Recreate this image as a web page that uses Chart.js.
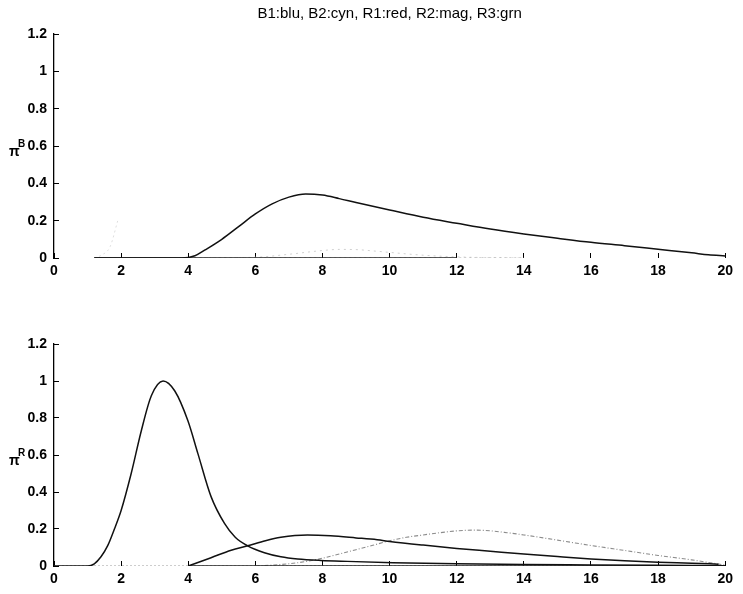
<!DOCTYPE html>
<html><head><meta charset="utf-8">
<script src="https://cdn.jsdelivr.net/npm/chart.js@4"></script>
<style>
html,body{margin:0;padding:0;background:#fff;}
#wrap{position:relative;width:743px;height:594px;overflow:hidden;}
.pane{position:absolute;left:0;width:743px;}
</style></head><body>
<div id="wrap">
<div class="pane" style="top:0;height:300px"><canvas id="cTop" width="743" height="300"></canvas></div>
<div class="pane" style="top:300px;height:294px"><canvas id="cBot" width="743" height="294"></canvas></div>
</div>
<script>
// ---- text ----
const chartTitle = 'B1:blu, B2:cyn, R1:red, R2:mag, R3:grn';
const topAxisSup = 'B';
const botAxisSup = 'R';
const xTickValues = [0, 2, 4, 6, 8, 10, 12, 14, 16, 18, 20];
const xTickLabels = ['0', '2', '4', '6', '8', '10', '12', '14', '16', '18', '20'];
const yTickValues = [0, 0.2, 0.4, 0.6, 0.8, 1, 1.2];
const yTickLabels = ['0', '0.2', '0.4', '0.6', '0.8', '1', '1.2'];

// ---- top panel (pi^B) ----
const b1X = [1.2, 2, 3, 3.8, 4.2, 4.5, 5, 5.5, 6, 6.5, 7, 7.5, 8, 8.5, 9, 10, 11, 12, 13, 14, 15, 16, 17, 18, 19, 19.5, 20];
const b1Y = [0, 0, 0, 0, 0.012, 0.043, 0.1, 0.168, 0.236, 0.29, 0.326, 0.343, 0.337, 0.318, 0.297, 0.257, 0.218, 0.186, 0.155, 0.129, 0.106, 0.084, 0.066, 0.047, 0.028, 0.017, 0.011];
const b2X = [1.2, 12];
const b2Y = [0, 0];
const b3X = [1.2, 14];
const b3Y = [0, 0];
const b4X = [1.2, 1.42, 1.67, 1.9];
const b4Y = [0, 0.016, 0.06, 0.2];
const b5X = [4, 6, 7, 8, 8.5, 9, 9.5, 10, 11, 12, 13, 14];
const b5Y = [0, 0.004, 0.02, 0.04, 0.046, 0.045, 0.038, 0.03, 0.015, 0.006, 0.002, 0];

// ---- bottom panel (pi^R) ----
const r1X = [0, 1.0, 1.2, 1.4, 1.6, 1.8, 2.0, 2.3, 2.6, 2.9, 3.25, 3.6, 3.99, 4.29, 4.68, 5.08, 5.4, 5.77, 6.27, 6.76, 7.26, 7.95, 8.74, 10.1, 12, 14, 16, 18, 20];
const r1Y = [0, 0, 0.012, 0.05, 0.11, 0.2, 0.3, 0.5, 0.73, 0.92, 1.0, 0.946, 0.785, 0.606, 0.375, 0.23, 0.155, 0.109, 0.072, 0.05, 0.038, 0.03, 0.025, 0.018, 0.012, 0.008, 0.006, 0.004, 0.002];
const r2X = [4, 4.68, 5.28, 5.77, 6.3, 6.76, 7.55, 8.24, 9, 9.63, 10, 11, 12, 13, 14, 15, 16, 17, 18, 19, 19.8];
const r2Y = [0, 0.045, 0.085, 0.109, 0.137, 0.155, 0.167, 0.163, 0.152, 0.142, 0.133, 0.113, 0.095, 0.08, 0.065, 0.051, 0.038, 0.028, 0.02, 0.015, 0.01];
const r3X = [6, 6.5, 7, 7.5, 8, 8.5, 9, 9.5, 10, 10.5, 11, 11.5, 12, 12.5, 13, 13.5, 14, 15, 16, 17, 18, 19, 20];
const r3Y = [0, 0.005, 0.012, 0.024, 0.042, 0.065, 0.088, 0.112, 0.136, 0.155, 0.168, 0.18, 0.19, 0.194, 0.19, 0.18, 0.168, 0.14, 0.111, 0.084, 0.057, 0.033, 0.005];
const r4X = [4, 20];
const r4Y = [0, 0];
const r5X = [0, 20];
const r5Y = [0, 0];

const FONT = '"Liberation Sans", Arial, Helvetica, sans-serif';

function pts(xs, ys) { return xs.map((x, i) => ({ x: x, y: ys[i] })); }
function ds(xs, ys, color, width, dash, order) {
  return {
    data: pts(xs, ys), borderColor: color, borderWidth: width, borderDash: dash || [],
    pointRadius: 0, fill: false, cubicInterpolationMode: 'monotone', order: order
  };
}

const annotPlugin = {
  id: 'annot',
  afterDraw(chart, args, o) {
    const ctx = chart.ctx, ca = chart.chartArea, ys = chart.scales.y;
    ctx.save();
    ctx.fillStyle = '#000';
    if (o.title) {
      ctx.font = '15px ' + FONT;
      ctx.textAlign = 'center'; ctx.textBaseline = 'middle';
      ctx.fillText(o.title, (ca.left + ca.right) / 2, o.titleY);
    }
    if (o.sup) {
      const y0 = ys.getPixelForValue(o.labelAt);
      ctx.textAlign = 'left'; ctx.textBaseline = 'alphabetic';
      ctx.font = 'bold 14px ' + FONT;
      ctx.fillText('π', 9, y0 + 10);
      ctx.font = 'bold 10px ' + FONT;
      ctx.fillText(o.sup, 18, y0 + 1);
    }
    ctx.restore();
  }
};

function makeChart(id, datasets, padTop, xAxisH, annot) {
  return new Chart(document.getElementById(id), {
    type: 'line',
    data: { datasets: datasets },
    plugins: [annotPlugin],
    options: {
      responsive: false, animation: false, devicePixelRatio: 1,
      layout: { padding: { left: 0, right: 14, top: padTop, bottom: 0 } },
      plugins: { legend: { display: false }, tooltip: { enabled: false }, title: { display: false }, annot: annot },
      scales: {
        x: {
          type: 'linear', min: 0, max: 20,
          afterBuildTicks: s => { s.ticks = xTickValues.map(v => ({ value: v })); },
          afterFit: s => { s.height = xAxisH; },
          border: { display: false },
          grid: { drawOnChartArea: false, drawTicks: true, tickLength: -5, color: '#000', lineWidth: 1 },
          ticks: { padding: 10, color: '#000', font: { family: FONT, size: 14, weight: 'bold' }, maxRotation: 0, autoSkip: false,
                   callback: (v, i) => xTickLabels[i] }
        },
        y: {
          type: 'linear', min: 0, max: 1.2,
          afterBuildTicks: s => { s.ticks = yTickValues.map(v => ({ value: v })); },
          afterFit: s => { s.width = 54; },
          border: { display: true, color: '#000', width: 1.3 },
          grid: { drawOnChartArea: false, drawTicks: true, tickLength: -5, color: '#000', lineWidth: 1 },
          ticks: { padding: 12, color: '#000', font: { family: FONT, size: 14, weight: 'bold' }, autoSkip: false,
                   callback: (v, i) => yTickLabels[i] }
        }
      }
    }
  });
}

makeChart('cTop', [
  ds(b1X, b1Y, '#111', 1.5, [], 1),
  ds(b2X, b2Y, '#222', 1.4, [], 2),
  ds(b3X, b3Y, '#aaa', 1, [2, 3], 3),
  ds(b4X, b4Y, '#dedede', 1, [2, 3], 4),
  ds(b5X, b5Y, '#d0d0d0', 1, [2, 4], 5)
], 34, 42, { title: chartTitle, titleY: 14, sup: topAxisSup, labelAt: 0.6 });

makeChart('cBot', [
  ds(r1X, r1Y, '#111', 1.5, [], 1),
  ds(r2X, r2Y, '#111', 1.5, [], 2),
  ds(r4X, r4Y, '#222', 1.4, [], 3),
  ds(r3X, r3Y, '#8c8c8c', 1.1, [4, 2, 1, 2], 4),
  ds(r5X, r5Y, '#9a9a9a', 1, [2, 2], 5)
], 44, 28, { sup: botAxisSup, labelAt: 0.6 });
</script>
</body></html>
